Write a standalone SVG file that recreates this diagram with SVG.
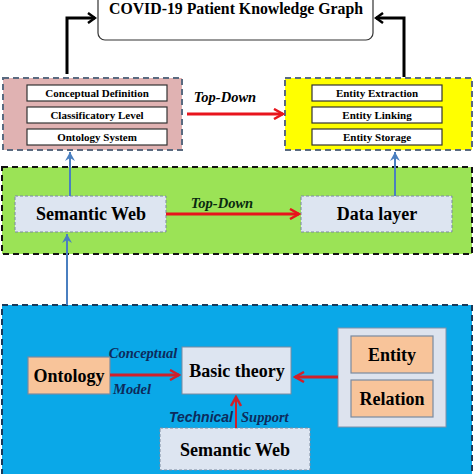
<svg xmlns="http://www.w3.org/2000/svg" width="474" height="474" viewBox="0 0 474 474">
<defs>
<style>
.serif{font-family:"Liberation Serif","Times New Roman",serif;font-weight:bold}
.inner{fill:#fff;stroke:#333;stroke-width:1.2}
.it{font-style:italic}
.big{font-size:18px}
.lbl{font-size:14.5px;fill:#0d2b5c}
.lbox{fill:#dde5f1;stroke:#7a8aa0;stroke-width:1;stroke-dasharray:3 2}
.orange{fill:#f8c49a;stroke:#7a8aa0;stroke-width:1.2}
</style>
<marker id="blk" markerWidth="10" markerHeight="12" refX="8" refY="6" orient="auto" markerUnits="userSpaceOnUse">
<path d="M1,1 L8,6 L1,11" fill="none" stroke="#000" stroke-width="2.5"/>
</marker>
<marker id="red" markerWidth="12" markerHeight="12" refX="10" refY="6" orient="auto" markerUnits="userSpaceOnUse">
<path d="M1,1 L10,6 L1,11" fill="none" stroke="#e8141c" stroke-width="2.5"/>
</marker>
<marker id="dred" markerWidth="12" markerHeight="12" refX="10" refY="6" orient="auto" markerUnits="userSpaceOnUse">
<path d="M1,1 L10,6 L1,11" fill="none" stroke="#d0202a" stroke-width="2.5"/>
</marker>
<marker id="blu" markerWidth="10" markerHeight="10" refX="9" refY="5" orient="auto" markerUnits="userSpaceOnUse">
<path d="M0,0 L9,5 L0,10 L3,5 Z" fill="#4a7fc0"/>
</marker>
</defs>
<rect width="474" height="474" fill="#fff"/>

<g id="kg">
<rect x="98" y="-8" width="275" height="48" rx="7" fill="#fff" stroke="#333" stroke-width="1.2"/>
<text x="236" y="14" text-anchor="middle" class="serif" font-size="15.8">COVID-19 Patient Knowledge Graph</text>
</g>

<g id="ontology-layer">
<rect x="3" y="78" width="179" height="72" fill="#e0b2b2" stroke="#5a6a80" stroke-width="2" stroke-dasharray="6 4"/>
<rect x="27" y="85" width="140" height="16" class="inner"/>
<text x="97" y="97" text-anchor="middle" class="serif" font-size="11">Conceptual Definition</text>
<rect x="27" y="107" width="140" height="16" class="inner"/>
<text x="97" y="119" text-anchor="middle" class="serif" font-size="11">Classificatory Level</text>
<rect x="27" y="129" width="140" height="16" class="inner"/>
<text x="97" y="141" text-anchor="middle" class="serif" font-size="11">Ontology System</text>
</g>

<g id="data-ops">
<rect x="285" y="78" width="187" height="72" fill="#ffff00" stroke="#5a6a80" stroke-width="2" stroke-dasharray="6 4"/>
<rect x="312" y="85" width="130" height="16" class="inner"/>
<text x="377" y="97" text-anchor="middle" class="serif" font-size="11">Entity Extraction</text>
<rect x="312" y="107" width="130" height="16" class="inner"/>
<text x="377" y="119" text-anchor="middle" class="serif" font-size="11">Entity Linking</text>
<rect x="312" y="129" width="130" height="16" class="inner"/>
<text x="377" y="141" text-anchor="middle" class="serif" font-size="11">Entity Storage</text>
</g>

<g id="green-layer">
<rect x="2" y="167" width="470" height="87" fill="#9be356" stroke="#111" stroke-width="2" stroke-dasharray="6 4"/>
</g>
<g id="semweb1">
<rect x="15" y="196" width="151" height="36" class="lbox"/>
<text x="91" y="220" text-anchor="middle" class="serif big">Semantic Web</text>
</g>
<g id="datalayer">
<rect x="301" y="196" width="151" height="36" class="lbox"/>
<text x="377" y="220" text-anchor="middle" class="serif big">Data layer</text>
</g>

<g id="blue-layer">
<rect x="2" y="305" width="470" height="175" fill="#0aa8e8" stroke="#1a3a5a" stroke-width="2" stroke-dasharray="6 4"/>
</g>
<g id="ontology">
<rect x="28" y="357" width="82" height="37" class="orange"/>
<text x="69" y="382" text-anchor="middle" class="serif big">Ontology</text>
</g>
<g id="basic">
<rect x="182" y="347" width="109" height="47" fill="#dde5f1" stroke="#7a8aa0" stroke-width="1"/>
<text x="237" y="377" text-anchor="middle" class="serif big">Basic theory</text>
</g>
<g id="er">
<rect x="338" y="328" width="108" height="99" fill="#dde3ee" stroke="#8090a8" stroke-width="1"/>
<rect x="351" y="336" width="82" height="37" class="orange"/>
<text x="392" y="361" text-anchor="middle" class="serif big">Entity</text>
<rect x="351" y="380" width="82" height="37" class="orange"/>
<text x="392" y="405" text-anchor="middle" class="serif big">Relation</text>
</g>
<g id="semweb2">
<rect x="160" y="428" width="150" height="42" class="lbox"/>
<text x="235" y="456" text-anchor="middle" class="serif big">Semantic Web</text>
</g>

<g id="connectors">
<path d="M67,74 V18 H95" fill="none" stroke="#000" stroke-width="3" marker-end="url(#blk)"/>
<path d="M404,77 V18 H376" fill="none" stroke="#000" stroke-width="3" marker-end="url(#blk)"/>
<line x1="187" y1="114" x2="283" y2="114" stroke="#e8141c" stroke-width="3" marker-end="url(#red)"/>
<text x="225" y="102" text-anchor="middle" class="serif it" font-size="14.5">Top-Down</text>
<line x1="166" y1="214" x2="299" y2="214" stroke="#e8141c" stroke-width="3" marker-end="url(#red)"/>
<text x="222" y="208" text-anchor="middle" class="serif it" font-size="14.5" fill="#0a2a10">Top-Down</text>
<line x1="70" y1="196" x2="70" y2="152" stroke="#4a7fc0" stroke-width="2" marker-end="url(#blu)"/>
<line x1="395" y1="196" x2="395" y2="152" stroke="#4a7fc0" stroke-width="2" marker-end="url(#blu)"/>
<line x1="67" y1="305" x2="67" y2="234" stroke="#4a7fc0" stroke-width="2" marker-end="url(#blu)"/>
<line x1="110" y1="375" x2="179" y2="375" stroke="#d0202a" stroke-width="3" marker-end="url(#dred)"/>
<text x="143" y="358" text-anchor="middle" class="serif it lbl">Conceptual</text>
<text x="132" y="394" text-anchor="middle" class="serif it lbl">Model</text>
<line x1="338" y1="377" x2="295" y2="377" stroke="#d0202a" stroke-width="3" marker-end="url(#dred)"/>
<line x1="236" y1="428" x2="236" y2="397" stroke="#d0202a" stroke-width="2" marker-end="url(#dred)"/>
<text x="233" y="422" text-anchor="end" font-family="Liberation Sans,Arial,sans-serif" font-weight="bold" font-style="italic" font-size="14" fill="#0d2b5c">Technical</text>
<text x="241" y="422" class="serif it lbl">Support</text>
</g>
</svg>
